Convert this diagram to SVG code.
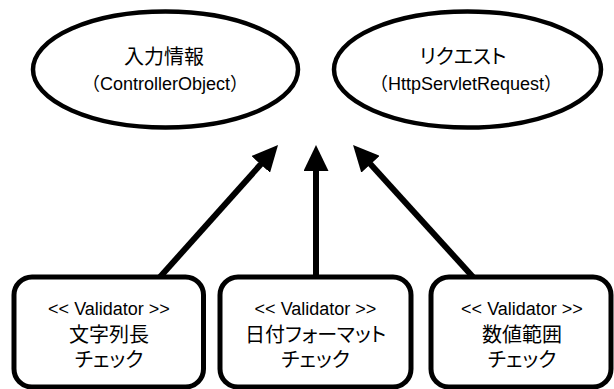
<svg xmlns="http://www.w3.org/2000/svg" width="614" height="389" viewBox="0 0 614 389">
<defs>
<style>
.bg{fill:#fff}
.ell{fill:#fff;stroke:#000;stroke-width:4.5}
.box{fill:#fff;stroke:#000;stroke-width:5}
.con{stroke:#000;stroke-width:6;fill:none}
text{font-family:"Liberation Sans","Noto Sans CJK JP",sans-serif;fill:#000;text-anchor:middle}
.jp{font-family:"Noto Sans CJK JP",sans-serif;font-size:20px;font-feature-settings:"palt"}
.jb{font-family:"Noto Sans CJK JP",sans-serif;font-size:20px;font-feature-settings:"palt"}
.la{font-size:18px}
</style>
<marker id="ah" markerUnits="userSpaceOnUse" markerWidth="26" markerHeight="25" refX="6" refY="12.5" orient="auto" viewBox="0 0 26 25">
<path d="M0,0 L26,12.5 L0,25 z" fill="#000"/>
</marker>
</defs>
<rect class="bg" x="0" y="0" width="614" height="389"/>
<g id="connectors">
<line class="con" x1="160" y1="277" x2="264.7" y2="159.9" marker-end="url(#ah)"/>
<line class="con" x1="316" y1="277" x2="316" y2="165" marker-end="url(#ah)"/>
<line class="con" x1="473" y1="277" x2="366.5" y2="159.8" marker-end="url(#ah)"/>
</g>
<g id="node-input">
<ellipse class="ell" cx="165.5" cy="69.5" rx="132.5" ry="58"/>
<text class="jp" x="164" y="64">入力情報</text>
<text class="la" x="165" y="90">（ControllerObject）</text>
</g>
<g id="node-request">
<ellipse class="ell" cx="467.5" cy="69.5" rx="133.5" ry="58"/>
<text class="jp" x="463" y="64">リクエスト</text>
<text class="la" x="466" y="90">（HttpServletRequest）</text>
</g>
<g id="node-strlen">
<rect class="box" x="14" y="277" width="189.5" height="110" rx="18" ry="18"/>
<text class="la" x="109" y="315">&lt;&lt; Validator &gt;&gt;</text>
<text class="jb" x="109" y="342">文字列長</text>
<text class="jb" x="109" y="367">チェック</text>
</g>
<g id="node-date">
<rect class="box" x="220" y="277" width="191" height="110" rx="18" ry="18"/>
<text class="la" x="315.5" y="315">&lt;&lt; Validator &gt;&gt;</text>
<text class="jb" x="315.5" y="342">日付フォーマット</text>
<text class="jb" x="315.5" y="367">チェック</text>
</g>
<g id="node-range">
<rect class="box" x="431" y="277" width="180" height="110" rx="18" ry="18"/>
<text class="la" x="522" y="315">&lt;&lt; Validator &gt;&gt;</text>
<text class="jb" x="522" y="342">数値範囲</text>
<text class="jb" x="522" y="367">チェック</text>
</g>
</svg>
